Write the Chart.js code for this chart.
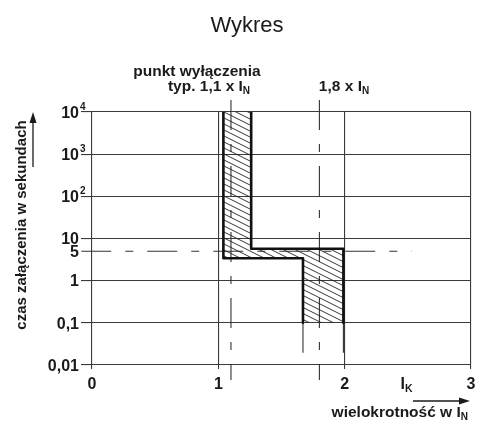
<!DOCTYPE html>
<html>
<head>
<meta charset="utf-8">
<script src="https://cdn.jsdelivr.net/npm/chart.js@4/dist/chart.umd.min.js"></script>
<style>
  body { margin: 0; background: #fff; }
</style>
</head>
<body>
<canvas id="chart" width="477" height="424"></canvas>
<script>
// axis ticks
const xTicks = [0, 1, 2, 3]
const xTickText = ['0', '1', '2', '3']
const yTicks = [0.01, 0.1, 1, 5, 10, 100, 1000, 10000]
const yTickText = ['0,01', '0,1', '1', '5', '10', '10', '10', '10']
const yTickSup = ['', '', '', '', '', '2', '3', '4']

// tripping band (multiple of I_N vs. time in s)
const leftEdgeX = [1.04, 1.04, 1.67, 1.67]
const leftEdgeY = [10000, 3.4, 3.4, 0.1]
const rightEdgeX = [1.26, 1.26, 1.99, 1.99]
const rightEdgeY = [10000, 5.7, 5.7, 0.1]

// reference lines
const tripTypical = 1.1
const tripLimit = 1.8
const switchTime = 5
const lineTop = 19300
const lineBottom = 0.0044
const lowerEdgeBottom = 0.01
const switchLineX = [-0.085, 2.53]
const ikPosition = 2.49

const titleText = 'Wykres'
const yTitle = 'czas załączenia w sekundach'
const xTitle = 'wielokrotność w I'
const noteLine1 = 'punkt wyłączenia'
const noteLine2 = 'typ. 1,1 x I'
const noteLimit = '1,8 x I'

const FONT = '"Liberation Sans", Arial, Helvetica, sans-serif'
const INK = '#1a1a1a'

function pts(xs, ys) {
    return xs.map(function(x, i) { return {x: x, y: ys[i]} })
}

function hatchPattern() {
    var c = document.createElement('canvas')
    c.width = 12
    c.height = 6
    var g = c.getContext('2d')
    g.strokeStyle = '#222'
    g.lineWidth = 0.9
    for (let k = -6; k <= 6; k += 6) {
        g.beginPath()
        g.moveTo(0, k)
        g.lineTo(12, k + 6)
        g.stroke()
    }
    return g.createPattern(c, 'repeat')
}

// draws text pieces [text, size, dy] one after another
function drawParts(ctx, parts, x, y, align) {
    var w = 0
    parts.forEach(function(p) {
        ctx.font = 'bold ' + p[1] + 'px ' + FONT
        w += ctx.measureText(p[0]).width
    })
    var cx = x
    if (align == 'center') cx = x - w / 2
    if (align == 'right') cx = x - w
    ctx.textAlign = 'left'
    parts.forEach(function(p) {
        ctx.font = 'bold ' + p[1] + 'px ' + FONT
        ctx.fillText(p[0], cx, y + p[2])
        cx += ctx.measureText(p[0]).width
    })
}

function arrowHead(ctx, x, y, dir) {
    ctx.beginPath()
    if (dir == 'up') {
        ctx.moveTo(x, y)
        ctx.lineTo(x - 3.5, y + 11)
        ctx.lineTo(x + 3.5, y + 11)
    } else {
        ctx.moveTo(x, y)
        ctx.lineTo(x - 11, y - 3.5)
        ctx.lineTo(x - 11, y + 3.5)
    }
    ctx.closePath()
    ctx.fill()
}

const labelsPlugin = {
    id: 'labels',
    afterDraw(chart) {
        var ctx = chart.ctx
        var xs = chart.scales.x
        var ys = chart.scales.y
        ctx.save()
        ctx.fillStyle = INK
        ctx.strokeStyle = INK
        ctx.textBaseline = 'alphabetic'

        // title
        ctx.font = '22px ' + FONT
        ctx.textAlign = 'center'
        ctx.fillText(titleText, 247, 31.5)

        // y tick labels
        yTicks.forEach(function(v, i) {
            var py = ys.getPixelForValue(v)
            drawParts(ctx, [[yTickText[i], 16, 0]], 79, py + 5.8, 'right')
            if (yTickSup[i]) drawParts(ctx, [[yTickSup[i], 10, 0]], 80, py - 2, 'left')
        })

        // x tick labels
        xTicks.forEach(function(v, i) {
            drawParts(ctx, [[xTickText[i], 16, 0]], xs.getPixelForValue(v), 389, 'center')
        })
        drawParts(ctx, [['I', 16, 0], ['K', 10.5, 3]], xs.getPixelForValue(ikPosition), 389, 'center')

        // notes above the plot
        drawParts(ctx, [[noteLine1, 15.5, 0]], 197, 76, 'center')
        drawParts(ctx, [[noteLine2, 15.5, 0], ['N', 10, 3]], 209, 91, 'center')
        drawParts(ctx, [[noteLimit, 15.5, 0], ['N', 10, 3]], 344, 91, 'center')

        // x axis title with arrow
        drawParts(ctx, [[xTitle, 15.5, 0], ['N', 10, 3]], 468, 417, 'right')
        ctx.lineWidth = 1.3
        ctx.beginPath()
        ctx.moveTo(413, 401)
        ctx.lineTo(462, 401)
        ctx.stroke()
        arrowHead(ctx, 470, 401, 'right')

        // y axis title with arrow
        ctx.save()
        ctx.translate(25.5, 225)
        ctx.rotate(-Math.PI / 2)
        drawParts(ctx, [[yTitle, 15, 0]], 0, 0, 'center')
        ctx.restore()
        ctx.beginPath()
        ctx.moveTo(33, 167)
        ctx.lineTo(33, 120)
        ctx.stroke()
        arrowHead(ctx, 33, 112, 'up')

        ctx.restore()
    }
}

const dashPattern = [30, 14, 8, 14]

const datasets = [
    {   // band outline, left side
        data: pts(leftEdgeX, leftEdgeY),
        borderColor: '#111', borderWidth: 2.6, borderJoinStyle: 'round', fill: false,
    },
    {   // band outline, right side
        data: pts(rightEdgeX, rightEdgeY),
        borderColor: '#111', borderWidth: 2.6, borderJoinStyle: 'round', fill: false,
    },
    {   // hatched band
        data: pts(leftEdgeX, leftEdgeY).concat(pts(rightEdgeX, rightEdgeY).reverse()),
        borderWidth: 0, borderColor: 'rgba(0,0,0,0)', backgroundColor: hatchPattern(), fill: 'shape',
    },
    {
        data: pts([tripTypical, tripTypical], [lineTop, lineBottom]),
        borderColor: '#333', borderWidth: 1.1, borderDash: dashPattern, clip: false,
    },
    {
        data: pts([tripLimit, tripLimit], [lineTop, lineBottom]),
        borderColor: '#333', borderWidth: 1.1, borderDash: dashPattern, clip: false,
    },
    {
        data: pts([leftEdgeX[3], leftEdgeX[3]], [leftEdgeY[3], lowerEdgeBottom]),
        borderColor: '#333', borderWidth: 1.1, borderDash: dashPattern, clip: false,
    },
    {
        data: pts([rightEdgeX[3], rightEdgeX[3]], [rightEdgeY[3], lowerEdgeBottom]),
        borderColor: '#333', borderWidth: 1.1, borderDash: dashPattern, clip: false,
    },
    {
        data: pts(switchLineX, [switchTime, switchTime]),
        borderColor: '#333', borderWidth: 1.1, borderDash: dashPattern, clip: false,
    },
]
datasets.forEach(function(d) {
    d.showLine = true
    d.pointRadius = 0
    d.pointHoverRadius = 0
})

new Chart(document.getElementById('chart'), {
    type: 'scatter',
    data: {datasets: datasets},
    options: {
        responsive: false,
        devicePixelRatio: 1,
        animation: false,
        events: [],
        layout: {padding: {left: 92, right: 6, top: 112, bottom: 59}},
        plugins: {
            legend: {display: false},
            title: {display: false},
            tooltip: {enabled: false},
        },
        scales: {
            x: {
                type: 'linear',
                min: 0,
                max: 3,
                afterBuildTicks: function(scale) {
                    scale.ticks = xTicks.map(function(v) { return {value: v} })
                },
                afterFit: function(scale) { scale.height = 0 },
                ticks: {display: false},
                grid: {color: '#3a3a3a', lineWidth: 1.1, tickLength: 4},
                border: {display: false},
            },
            y: {
                type: 'logarithmic',
                min: 0.01,
                max: 10000,
                afterBuildTicks: function(scale) {
                    scale.ticks = yTicks.map(function(v) { return {value: v} })
                },
                afterFit: function(scale) { scale.width = 0 },
                ticks: {display: false},
                grid: {
                    color: function(c) { return c.tick && c.tick.value == switchTime ? 'rgba(0,0,0,0)' : '#3a3a3a' },
                    lineWidth: 1.1,
                    tickLength: 11,
                },
                border: {display: false},
            },
        },
    },
    plugins: [labelsPlugin],
})
</script>
</body>
</html>
